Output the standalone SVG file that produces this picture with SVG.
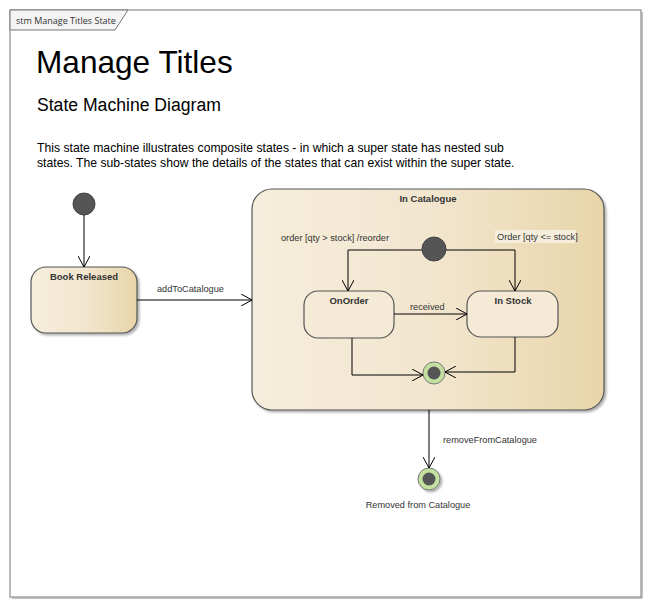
<svg xmlns="http://www.w3.org/2000/svg" width="651" height="607" viewBox="0 0 651 607">
<defs>
<linearGradient id="g" x1="0" y1="0" x2="1" y2="0">
<stop offset="0" stop-color="#F6EDDC"/>
<stop offset="0.5" stop-color="#F2E6CF"/>
<stop offset="1" stop-color="#E8D5A9"/>
</linearGradient>
<filter id="sh" x="-10%" y="-10%" width="130%" height="130%">
<feDropShadow dx="2" dy="2" stdDeviation="1.2" flood-color="#000" flood-opacity="0.3"/>
</filter>
<marker id="a" markerWidth="12" markerHeight="12" refX="11" refY="6" orient="auto" markerUnits="userSpaceOnUse">
<path d="M0,0 L11,6 L0,12" fill="none" stroke="#000" stroke-width="1"/>
</marker>
</defs>
<style>
.st{fill:url(#g);stroke:#555;stroke-width:1.2;filter:url(#sh)}
.sub{fill:#F4EAD6;stroke:#555;stroke-width:1.2}
.lbl{font-family:"Liberation Sans",Arial,sans-serif;font-size:9.5px;font-weight:bold;fill:#333;text-anchor:middle}
.t{font-family:"Liberation Sans",Arial,sans-serif;font-size:9.2px;fill:#333}
.c{fill:none;stroke:#000;stroke-width:1;marker-end:url(#a)}
.init{fill:#555;stroke:#444}
.fo{fill:#C4E0A0;stroke:#777;stroke-width:1}
.fi{fill:#555}
</style>
<rect x="0" y="0" width="651" height="607" fill="#fff"/>
<g id="frame">
<rect x="10" y="10" width="631" height="587" fill="#fff" stroke="#777" stroke-width="1"/>
<line x1="642" y1="12" x2="642" y2="598" stroke="#aaa" stroke-width="1.5"/>
<line x1="12" y1="598" x2="642" y2="598" stroke="#aaa" stroke-width="1.5"/>
<path d="M10,10 L128,10 L115,30 L10,30 Z" fill="#F4F4F4" stroke="#777" stroke-width="1"/>
<text x="16" y="23.5" font-family="'Open Sans','Noto Sans',sans-serif" font-size="9" fill="#333">stm Manage Titles State</text>
</g>
<g id="titles" font-family="'Liberation Sans',Arial,sans-serif" fill="#000">
<text x="36" y="73" font-size="31.6">Manage Titles</text>
<text x="37" y="111" font-size="17.6">State Machine Diagram</text>
<text x="37" y="152" font-size="12.2">This state machine illustrates composite states - in which a super state has nested sub</text>
<text x="37" y="167" font-size="12.2">states. The sub-states show the details of the states that can exist within the super state.</text>
</g>
<g id="init1"><circle cx="84" cy="204" r="11" class="init"/></g>
<g id="bookReleased">
<rect x="31" y="267" width="106" height="66" rx="15" class="st"/>
<text x="84" y="280" class="lbl">Book Released</text>
</g>
<g id="inCatalogue">
<rect x="252" y="189" width="352" height="221" rx="20" class="st"/>
<text x="428" y="202" class="lbl">In Catalogue</text>
</g>
<g id="init2"><circle cx="434" cy="249" r="12" class="init"/></g>
<g id="onOrder">
<rect x="304" y="291" width="90" height="47" rx="14" class="sub"/>
<text x="349" y="304" class="lbl">OnOrder</text>
</g>
<g id="inStock">
<rect x="467" y="291" width="91" height="46" rx="14" class="sub"/>
<text x="513" y="304" class="lbl">In Stock</text>
</g>
<g id="final1"><circle cx="434" cy="373" r="11" class="fo"/><circle cx="434" cy="373" r="6.5" class="fi"/></g>
<g id="final2"><circle cx="429" cy="479" r="11" class="fo" filter="url(#sh)"/><circle cx="429" cy="479" r="6.5" class="fi"/></g>
<g id="connectors">
<path d="M84,215 L84,267" class="c"/>
<path d="M137,300 L252,300" class="c"/>
<path d="M422,250 L348,250 L348,291" class="c"/>
<path d="M446,250 L515,250 L515,291" class="c"/>
<path d="M394,314 L467,314" class="c"/>
<path d="M352,338 L352,375 L423,375" class="c"/>
<path d="M515,337 L515,372 L445,372" class="c"/>
<path d="M429,410 L429,468" class="c"/>
</g>
<g id="labels">
<text x="157" y="292" class="t">addToCatalogue</text>
<rect x="279" y="232" width="110" height="12" fill="#F4EAD6"/>
<text x="281" y="241" class="t">order [qty &gt; stock] /reorder</text>
<rect x="495" y="230" width="81" height="13" fill="#F6EEDD"/>
<text x="497" y="240" class="t">Order [qty &lt;= stock]</text>
<text x="410" y="310" class="t">received</text>
<text x="443" y="443" class="t">removeFromCatalogue</text>
<text x="418" y="508" class="t" text-anchor="middle">Removed from Catalogue</text>
</g>
</svg>
